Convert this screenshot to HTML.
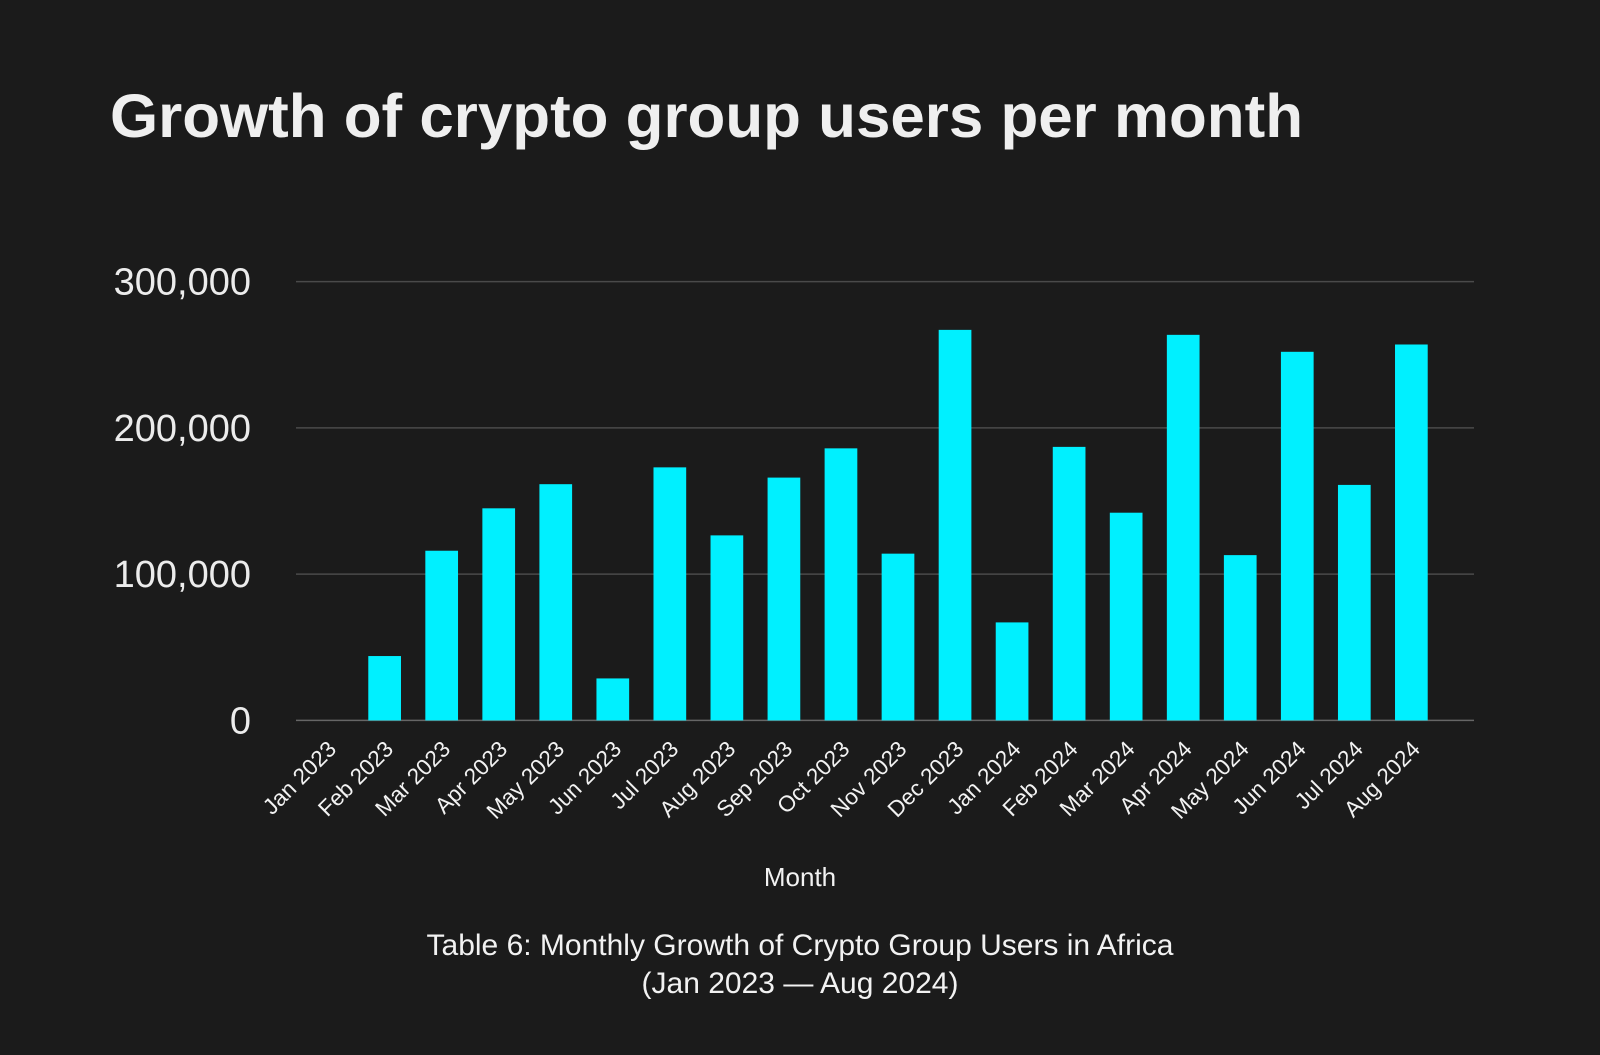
<!DOCTYPE html>
<html><head><meta charset="utf-8">
<style>
html,body{margin:0;padding:0;background:#1b1b1b;}
svg{display:block;font-family:"Liberation Sans",sans-serif;}
</style></head>
<body>
<svg id="chart" width="1600" height="1055" viewBox="0 0 1600 1055">
<rect width="1600" height="1055" fill="#1b1b1b"/>
<text x="110" y="137" fill="#efefef" font-size="61" font-weight="bold" textLength="1193" lengthAdjust="spacingAndGlyphs">Growth of crypto group users per month</text>
<g id="grid"></g>
<g id="bars"></g>
<g id="xlabels"></g>
<text x="800" y="886" fill="#f2f2f2" font-size="26" text-anchor="middle">Month</text>
<text x="800" y="955" fill="#f2f2f2" font-size="30" text-anchor="middle">Table 6: Monthly Growth of Crypto Group Users in Africa</text>
<text x="800" y="993" fill="#f2f2f2" font-size="30" text-anchor="middle">(Jan 2023 — Aug 2024)</text>
</svg>
<script>
const categories = ["Jan 2023","Feb 2023","Mar 2023","Apr 2023","May 2023","Jun 2023","Jul 2023","Aug 2023","Sep 2023","Oct 2023","Nov 2023","Dec 2023","Jan 2024","Feb 2024","Mar 2024","Apr 2024","May 2024","Jun 2024","Jul 2024","Aug 2024"];
const values = [0,44000,116000,145000,161500,28700,173000,126500,166000,186000,114000,267000,67000,187000,142000,263600,113000,252000,161000,257000];
const yTicks = [0,100000,200000,300000];
const yTickLabels = ["0","100,000","200,000","300,000"];

const NS = "http://www.w3.org/2000/svg";
const plotLeft = 296, plotRight = 1474, y0 = 720.4, yTop = 281.6, yMax = 300000;
const y = v => y0 - (v / yMax) * (y0 - yTop);
const step = 57.04;
const xc = i => 327.6 + i * step;
const barW = 32.7;

const grid = document.getElementById("grid");
yTicks.forEach((t, i) => {
  const ln = document.createElementNS(NS, "line");
  ln.setAttribute("x1", plotLeft); ln.setAttribute("x2", plotRight);
  ln.setAttribute("y1", y(t)); ln.setAttribute("y2", y(t));
  ln.setAttribute("stroke", t === 0 ? "#666" : "#4a4a4a"); ln.setAttribute("stroke-width", "1.5");
  
  
  grid.appendChild(ln);
  const tx = document.createElementNS(NS, "text");
  tx.setAttribute("x", 251); tx.setAttribute("y", y(t) + 13);
  tx.setAttribute("fill", "#ececec"); tx.setAttribute("font-size", "38");
  tx.setAttribute("text-anchor", "end");
  tx.textContent = yTickLabels[i];
  
  
  grid.appendChild(tx);
});

const bars = document.getElementById("bars");
const xl = document.getElementById("xlabels");
categories.forEach((c, i) => {
  const v = values[i];
  if (v > 0) {
    const r = document.createElementNS(NS, "rect");
    r.setAttribute("x", xc(i) - barW / 2); r.setAttribute("width", barW);
    r.setAttribute("y", y(v)); r.setAttribute("height", y0 - y(v));
    r.setAttribute("fill", "#00f0ff");
    
    
    bars.appendChild(r);
  }
  const t = document.createElementNS(NS, "text");
  const lx = xc(i) + 10, ly = y0 + 30;
  t.setAttribute("x", lx); t.setAttribute("y", ly);
  t.setAttribute("transform", `rotate(-45 ${lx} ${ly})`);
  t.setAttribute("fill", "#f2f2f2"); t.setAttribute("font-size", "22.5");
  t.setAttribute("text-anchor", "end");
  t.textContent = c;
  
  
  xl.appendChild(t);
});
</script>
</body></html>
